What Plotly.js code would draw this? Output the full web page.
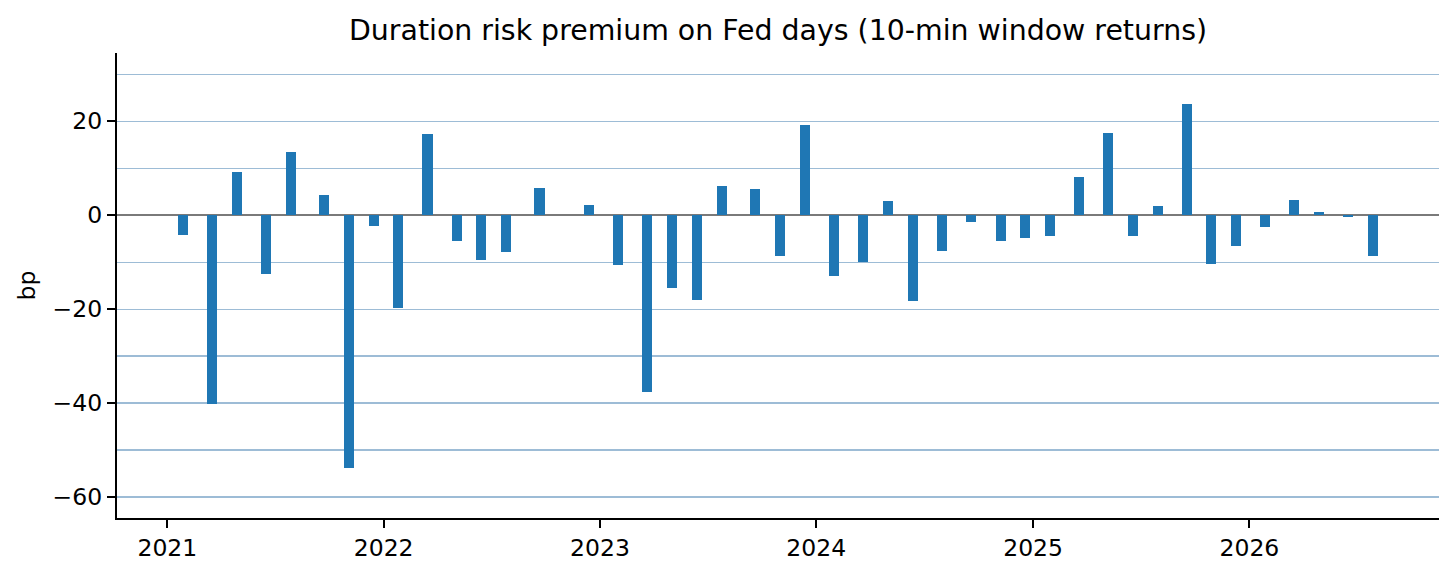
<!DOCTYPE html>
<html>
<head>
<meta charset="utf-8">
<script src="https://cdn.plot.ly/plotly-3.0.1.min.js"></script>
<style>html,body{margin:0;padding:0;background:#fff;}#chart{width:1456px;height:575px;}</style>
</head>
<body>
<div id="chart"></div>
<script>
// FOMC announcement dates
const dates = [
  '2021-01-27','2021-03-17','2021-04-28','2021-06-16','2021-07-28','2021-09-22','2021-11-03','2021-12-15',
  '2022-01-26','2022-03-16','2022-05-04','2022-06-15','2022-07-27','2022-09-21','2022-12-14',
  '2023-02-01','2023-03-22','2023-05-03','2023-06-14','2023-07-26','2023-09-20','2023-11-01','2023-12-13',
  '2024-01-31','2024-03-20','2024-05-01','2024-06-12','2024-07-31','2024-09-18','2024-11-07','2024-12-18',
  '2025-01-29','2025-03-19','2025-05-07','2025-06-18','2025-07-30','2025-09-17','2025-10-29','2025-12-10',
  '2026-01-28','2026-03-18','2026-04-29','2026-06-17','2026-07-29'
];
// 10-min window returns (bp)
const returnsBp = [
  -4.2, -40.2, 9.25, -12.5, 13.4, 4.2, -53.8, -2.3,
  -19.7, 17.2, -5.5, -9.5, -7.9, 5.8, 2.2,
  -10.6, -37.7, -15.5, -18.0, 6.2, 5.6, -8.8, 19.2,
  -12.9, -10.0, 2.9, -18.2, -7.7, -1.4, -5.5, -4.8,
  -4.45, 8.05, 17.5, -4.45, 1.9, 23.7, -10.4, -6.65,
  -2.5, 3.2, 0.7, -0.3, -8.8
];
const xTickVals = ['2021-01-01','2022-01-01','2023-01-01','2024-01-01','2025-01-01','2026-01-01'];
const xTickText = ['2021','2022','2023','2024','2025','2026'];
const yTickVals = [-60, -40, -20, 0, 20];
const yTickText = ['\u221260', '\u221240', '\u221220', '0', '20'];

const DAY = 86400000;
const FONT = 'DejaVu Sans, sans-serif';

const trace = {
  type: 'bar',
  x: dates,
  y: returnsBp,
  width: dates.map(() => 16.9 * DAY),
  marker: {color: '#1f77b4', line: {width: 0}},
  hoverinfo: 'x+y'
};

const layout = {
  width: 1456,
  height: 575,
  paper_bgcolor: '#ffffff',
  plot_bgcolor: '#ffffff',
  margin: {l: 117, r: 17, t: 53, b: 57, pad: 0},
  showlegend: false,
  font: {family: FONT, size: 23.5, color: '#000'},
  title: {
    text: 'Duration risk premium on Fed days (10-min window returns)',
    font: {family: FONT, size: 28.4, color: '#000'},
    x: 0.5, xref: 'paper', xanchor: 'center',
    y: 1 - 30 / 575, yref: 'container', yanchor: 'middle'
  },
  xaxis: {
    type: 'date',
    range: ['2020-10-08', '2026-11-17'],
    tickmode: 'array',
    tickvals: xTickVals,
    ticktext: xTickText,
    ticks: 'outside', ticklen: 8.3, tickwidth: 1.9, tickcolor: '#000',
    showline: true, linecolor: '#000', linewidth: 1.9,
    showgrid: false, zeroline: false,
    tickfont: {family: FONT, size: 23.5, color: '#000'},
    fixedrange: true
  },
  yaxis: {
    range: [-64.47, 34.5],
    tickmode: 'array',
    tickvals: yTickVals,
    ticktext: yTickText,
    ticks: 'outside', ticklen: 8.3, tickwidth: 1.9, tickcolor: '#000',
    showline: true, linecolor: '#000', linewidth: 1.9,
    showgrid: true, gridcolor: '#9dbcd6', gridwidth: 1.1,
    minor: {tickmode: 'linear', tick0: 0, dtick: 10, showgrid: true, gridcolor: '#9dbcd6', gridwidth: 1.1, ticks: ''},
    zeroline: true, zerolinecolor: '#7a7a7a', zerolinewidth: 1.5,
    tickfont: {family: FONT, size: 23.5, color: '#000'},
    title: {text: 'bp', font: {family: FONT, size: 23.5, color: '#000'}, standoff: 10},
    fixedrange: true
  },
  bargap: 0
};

Plotly.newPlot('chart', [trace], layout, {displayModeBar: false, staticPlot: true});
</script>
</body>
</html>
